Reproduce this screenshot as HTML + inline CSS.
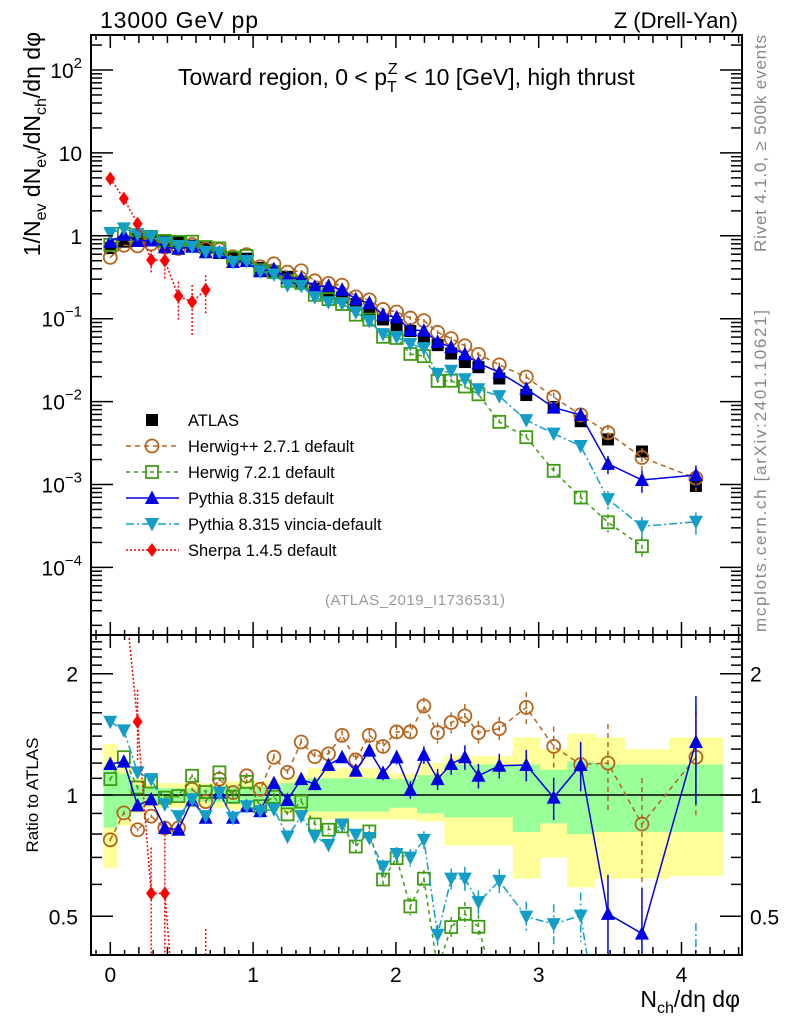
<!DOCTYPE html>
<html><head><meta charset="utf-8"><style>
html,body{margin:0;padding:0;background:#fff;width:786px;height:1024px;overflow:hidden;}
svg{display:block;font-family:"Liberation Sans",sans-serif;}
</style></head><body>
<svg id="chart" width="786" height="1024" viewBox="0 0 786 1024" xmlns="http://www.w3.org/2000/svg">
<defs>
<clipPath id="cm"><rect x="91" y="35" width="651" height="600"/></clipPath>
<clipPath id="cr"><rect x="91" y="635" width="651" height="320"/></clipPath>
</defs>
<g id="ratioBands" clip-path="url(#cr)"></g>
<line x1="91" y1="795" x2="742" y2="795" stroke="#000" stroke-width="1.5"/>
<g id="mainMarks" clip-path="url(#cm)"></g>
<g id="ratioMarks" clip-path="url(#cr)"></g>
<g id="axes"></g>
<rect x="91" y="35" width="651" height="600" fill="none" stroke="#000" stroke-width="2"/>
<rect x="91" y="635" width="651" height="320" fill="none" stroke="#000" stroke-width="2"/>
<text x="100" y="28" font-size="23" textLength="158">13000 GeV pp</text>
<text x="738" y="28" font-size="22" text-anchor="end">Z (Drell-Yan)</text>
<text x="178" y="85" font-size="23">Toward region, 0 &lt; p<tspan font-size="16" dy="7">T</tspan><tspan font-size="16" dx="-9" dy="-18">Z</tspan><tspan dy="11"> &lt; 10 [GeV], high thrust</tspan></text>
<text transform="translate(40,32) rotate(-90)" font-size="23" text-anchor="end">1/N<tspan font-size="16" dy="6">ev</tspan><tspan dy="-6"> dN</tspan><tspan font-size="16" dy="6">ev</tspan><tspan dy="-6">/dN</tspan><tspan font-size="16" dy="6">ch</tspan><tspan dy="-6">/dη dφ</tspan></text>
<text transform="translate(38,795) rotate(-90)" font-size="17" text-anchor="middle">Ratio to ATLAS</text>
<text x="740" y="1007" font-size="23" text-anchor="end">N<tspan font-size="16" dy="6">ch</tspan><tspan dy="-6">/dη dφ</tspan></text>
<text transform="translate(766,252) rotate(-90)" font-size="17" fill="#888" textLength="217">Rivet 4.1.0, ≥ 500k events</text>
<text transform="translate(766,632) rotate(-90)" font-size="17" fill="#888" textLength="322">mcplots.cern.ch [arXiv:2401.10621]</text>
<text x="325" y="605" font-size="15" fill="#999" textLength="180">(ATLAS_2019_I1736531)</text>
<g id="legend"></g>
</svg>
<script>
var xs=[0,0.095,0.191,0.286,0.382,0.477,0.573,0.668,0.764,0.859,0.955,1.05,1.146,1.241,1.337,1.432,1.528,1.623,1.719,1.814,1.91,2.005,2.101,2.196,2.292,2.387,2.483,2.578,2.724,2.913,3.105,3.294,3.485,3.723,4.101];
var atlas=[0.71,0.85,0.92,0.9,0.88,0.85,0.76,0.72,0.62,0.55,0.53,0.41,0.37,0.32,0.28,0.23,0.21,0.18,0.15,0.12,0.098,0.084,0.071,0.057,0.048,0.038,0.030,0.026,0.019,0.012,0.0086,0.0058,0.0035,0.0025,0.00096];
var herwigppRatio=[0.774,0.903,0.82,0.886,0.828,0.828,1.033,0.963,1.095,1.014,1.116,1.033,1.241,1.138,1.354,1.245,1.265,1.406,1.222,1.406,1.32,1.434,1.434,1.663,1.428,1.513,1.572,1.428,1.461,1.65,1.32,1.19,1.2,0.847,1.241];
var herwig7Ratio=[1.095,1.241,1.044,1.08,0.985,0.994,1.116,1.017,1.138,0.99,1.078,0.938,0.99,0.895,0.963,0.845,0.82,0.836,0.745,0.812,0.617,0.697,0.529,0.62,0.37,0.47,0.507,0.471,0.30,0.31,0.17,0.12,0.10,0.072,null];
var pythiaRatio=[1.194,1.21,0.942,0.975,0.828,0.82,0.97,0.878,1.014,0.878,0.938,0.912,1.07,0.972,1.095,1.064,1.187,1.241,1.149,1.289,1.133,1.241,1.03,1.258,1.095,1.194,1.241,1.116,1.182,1.187,0.985,1.187,0.507,0.453,1.354];
var vinciaRatio=[1.52,1.447,1.138,1.095,0.948,0.886,0.975,0.886,1.014,0.878,0.938,0.912,0.921,0.789,0.886,0.789,0.752,0.845,0.797,0.782,0.664,0.714,0.699,0.774,0.45,0.62,0.62,0.542,0.612,0.499,0.478,0.502,0.19,0.125,0.37];
var sherpaRatio=[6.9,3.3,1.52,0.57,0.57,0.22,0.21,0.31];
var errFrac=[0.01,0.01,0.01,0.01,0.01,0.01,0.01,0.01,0.01,0.01,0.015,0.015,0.02,0.02,0.02,0.025,0.025,0.03,0.03,0.035,0.04,0.04,0.05,0.05,0.06,0.06,0.07,0.07,0.07,0.09,0.12,0.14,0.25,0.3,0.3];
var sherpaErr=[0.1,0.15,0.2,0.3,0.4,0.5,0.6,0.5];
var yellowUp=[1.34,1.22,1.10,1.07,1.07,1.07,1.07,1.07,1.07,1.08,1.08,1.08,1.09,1.10,1.12,1.165,1.165,1.165,1.165,1.165,1.165,1.13,1.13,1.2,1.2,1.25,1.25,1.25,1.25,1.39,1.30,1.42,1.39,1.30,1.39];
var yellowDn=[0.66,0.84,0.90,0.93,0.93,0.93,0.93,0.93,0.93,0.92,0.92,0.92,0.91,0.90,0.89,0.87,0.87,0.87,0.87,0.87,0.87,0.87,0.87,0.86,0.86,0.75,0.75,0.75,0.75,0.62,0.70,0.59,0.62,0.62,0.63];
var greenUp=[1.18,1.13,1.06,1.04,1.04,1.04,1.04,1.04,1.04,1.05,1.05,1.05,1.06,1.07,1.08,1.10,1.10,1.10,1.10,1.10,1.10,1.095,1.095,1.12,1.12,1.19,1.19,1.19,1.19,1.19,1.155,1.21,1.19,1.19,1.19];
var greenDn=[0.83,0.88,0.93,0.96,0.96,0.96,0.96,0.96,0.96,0.95,0.95,0.95,0.94,0.93,0.92,0.91,0.91,0.91,0.91,0.91,0.91,0.93,0.93,0.90,0.90,0.88,0.88,0.88,0.88,0.81,0.85,0.80,0.81,0.81,0.81];
var xTicks=[0,1,2,3,4];
var mainTickExp=[2,1,0,-1,-2,-3,-4];
var ratioTicks=[0.5,1,2];

var NS="http://www.w3.org/2000/svg";
var RTOP=634,RBOT=956;
function X(v){return 110.3+v*142.8;}
function YM(v){return 235.8-82.9*Math.log10(v);}
function YR(r){return 795-121.3*Math.log2(r);}
function cl(y){return Math.max(RTOP,Math.min(RBOT,y));}
function mk(tag,attrs,parent){var e=document.createElementNS(NS,tag);for(var k in attrs)e.setAttribute(k,attrs[k]);parent.appendChild(e);return e;}
var mainG=document.getElementById('mainMarks'),ratG=document.getElementById('ratioMarks'),axG=document.getElementById('axes'),bandG=document.getElementById('ratioBands'),legG=document.getElementById('legend');

for(var i=0;i<xs.length;i++){
  var l=i==0?X(xs[0])-(X(xs[1])-X(xs[0]))/2:(X(xs[i-1])+X(xs[i]))/2;
  var r=i==xs.length-1?X(xs[i])+(X(xs[i])-X(xs[i-1]))/2:(X(xs[i])+X(xs[i+1]))/2;
  var yb=mk('rect',{x:l,y:cl(YR(yellowUp[i])),width:r-l+0.5,height:cl(YR(yellowDn[i]))-cl(YR(yellowUp[i])),fill:'#ffff99'},bandG);
  
  
  var gb=mk('rect',{x:l,y:cl(YR(greenUp[i])),width:r-l+0.5,height:cl(YR(greenDn[i]))-cl(YR(greenUp[i])),fill:'#99ff99'},bandG);
  
  
}

// clip a polyline (array of [x,y]) to y in [RTOP,RBOT]; returns list of pieces
function clipPoly(pts){
  var pieces=[],cur=[];
  function inside(p){return p[1]>=RTOP&&p[1]<=RBOT;}
  function cross(a,b,yc){var t=(yc-a[1])/(b[1]-a[1]);return [a[0]+t*(b[0]-a[0]),yc];}
  for(var i=0;i<pts.length-1;i++){
    var a=pts[i],b=pts[i+1];
    var ts=[0,1];
    // compute parametric t range inside
    var t0=0,t1=1,dy=b[1]-a[1];
    if(dy==0){ if(!inside(a)){ if(cur.length){pieces.push(cur);cur=[];} continue;} }
    else{
      var tA=(RTOP-a[1])/dy,tB=(RBOT-a[1])/dy;
      var lo=Math.min(tA,tB),hi=Math.max(tA,tB);
      t0=Math.max(0,lo);t1=Math.min(1,hi);
      if(t0>t1){ if(cur.length){pieces.push(cur);cur=[];} continue;}
    }
    var p0=[a[0]+t0*(b[0]-a[0]),a[1]+t0*dy],p1=[a[0]+t1*(b[0]-a[0]),a[1]+t1*dy];
    if(cur.length==0||t0>0){ if(cur.length){pieces.push(cur);} cur=[p0]; }
    cur.push(p1);
    if(t1<1){pieces.push(cur);cur=[];}
  }
  if(cur.length)pieces.push(cur);
  return pieces;
}

function marker(g,type,cx,cy,col){
  var e;
  if(type=='sq') e=mk('rect',{x:cx-6,y:cy-6,width:12,height:12,fill:'#000'},g);
  else if(type=='osq') e=mk('rect',{x:cx-6,y:cy-6,width:12,height:12,fill:'none',stroke:col,'stroke-width':1.8},g);
  else if(type=='circ') e=mk('circle',{cx:cx,cy:cy,r:6.5,fill:'none',stroke:col,'stroke-width':1.8},g);
  else if(type=='up') e=mk('polygon',{points:(cx-7)+','+(cy+6)+' '+(cx+7)+','+(cy+6)+' '+cx+','+(cy-7.5),fill:col},g);
  else if(type=='dn') e=mk('polygon',{points:(cx-7)+','+(cy-6)+' '+(cx+7)+','+(cy-6)+' '+cx+','+(cy+7.5),fill:col},g);
  else e=mk('polygon',{points:cx+','+(cy-7)+' '+(cx+5)+','+cy+' '+cx+','+(cy+7)+' '+(cx-5)+','+cy,fill:col},g);
  return e;
}
var series=[
 {name:'herwigpp',ratio:herwigppRatio,err:errFrac,col:'#b5651d',dash:'5,4',type:'circ',label:'Herwig++ 2.7.1 default'},
 {name:'herwig7',ratio:herwig7Ratio,err:errFrac,col:'#3f9a14',dash:'4,4',type:'osq',label:'Herwig 7.2.1 default'},
 {name:'pythia',ratio:pythiaRatio,err:errFrac,col:'#0000e6',dash:'',type:'up',label:'Pythia 8.315 default'},
 {name:'vincia',ratio:vinciaRatio,err:errFrac,col:'#129ec6',dash:'8,3,2,3',type:'dn',label:'Pythia 8.315 vincia-default'},
 {name:'sherpa',ratio:sherpaRatio,err:sherpaErr,col:'#ff0000',dash:'2,2',type:'dia',label:'Sherpa 1.4.5 default'}
];
for(var i=0;i<atlas.length;i++){
  var m=marker(mainG,'sq',X(xs[i]),YM(atlas[i]),'#000');
  
  
}
series.forEach(function(s){
  var ptsM=[],ptsR=[];
  for(var i=0;i<s.ratio.length;i++){ if(s.ratio[i]==null)continue;
    ptsM.push(X(xs[i])+','+YM(atlas[i]*s.ratio[i])); ptsR.push([X(xs[i]),YR(s.ratio[i])]);}
  var pl=mk('polyline',{points:ptsM.join(' '),fill:'none',stroke:s.col,'stroke-width':1.5,'stroke-dasharray':s.dash},mainG);
  
  
  clipPoly(ptsR).forEach(function(piece){
    var pr=mk('polyline',{points:piece.map(function(p){return p[0]+','+p[1];}).join(' '),fill:'none',stroke:s.col,'stroke-width':1.5,'stroke-dasharray':s.dash},ratG);
    
    
  });
  for(var i=0;i<s.ratio.length;i++){ if(s.ratio[i]==null)continue;
    var cx=X(xs[i]),v=atlas[i]*s.ratio[i],e=s.err[i];
    var eb=mk('line',{x1:cx,x2:cx,y1:YM(v*(1+e)),y2:YM(v*Math.max(1-e,0.05)),stroke:s.col,'stroke-width':1.5,'stroke-dasharray':s.dash},mainG);
    
    
    var m1=marker(mainG,s.type,cx,YM(v),s.col);
    
    
    var ya=cl(YR(s.ratio[i]*(1+e))),yb2=cl(YR(s.ratio[i]*Math.max(1-e,0.05)));
    if(yb2>ya){
      var er=mk('line',{x1:cx,x2:cx,y1:ya,y2:yb2,stroke:s.col,'stroke-width':1.5,'stroke-dasharray':s.dash},ratG);
      
      
    }
    var yr=YR(s.ratio[i]);
    if(yr>RTOP+6&&yr<RBOT-6){
      var m2=marker(ratG,s.type,cx,yr,s.col);
      
      
    }
  }
});
var ly=[420,446,472,498,524,550];
var lm=marker(legG,'sq',152,ly[0],'#000');


var lt=mk('text',{x:188,y:ly[0]+6,'font-size':16.5},legG);lt.textContent='ATLAS';


series.forEach(function(s,k){
  var y=ly[k+1];
  var ll=mk('line',{x1:126,x2:179,y1:y,y2:y,stroke:s.col,'stroke-width':1.5,'stroke-dasharray':s.dash},legG);
  
  
  var m=marker(legG,s.type,152,y,s.col);
  
  
  var t=mk('text',{x:188,y:y+6,'font-size':16.5},legG);t.textContent=s.label;
  
  
});
function tick(x1,y1,x2,y2){var t=mk('line',{x1:x1,y1:y1,x2:x2,y2:y2,stroke:'#000','stroke-width':1.5},axG);
  
  }
for(var k=-1;k<=44;k++){var v=k/10,px=X(v);if(px<92||px>741)continue;
  var len=(k%10==0)?13:(k%2==0?8:5);
  tick(px,635,px,635-len);tick(px,35,px,35+len);tick(px,955,px,955-len);tick(px,635,px,635+len);}
xTicks.forEach(function(v){var t=mk('text',{x:X(v),y:982,'font-size':21,'text-anchor':'middle'},axG);t.textContent=String(v);
  
  });
for(var e=-5;e<=2;e++){for(var m=1;m<=9;m++){var py=YM(m*Math.pow(10,e));if(py<36||py>634)continue;
  var len=m==1?22:11;tick(91,py,91+len,py);tick(742,py,742-len,py);}}
mainTickExp.forEach(function(e){var py=YM(Math.pow(10,e));
  var t=mk('text',{x:82,y:py+8,'font-size':21,'text-anchor':'end'},axG);
  if(e==0)t.textContent='1';else if(e==1)t.textContent='10';
  else{t.textContent='10';var ts=mk('tspan',{dy:-10,'font-size':15},t);ts.textContent=String(e).replace('-','−');}
  
  });
[0.4,0.5,0.6,0.7,0.8,0.9,1,1.1,1.2,1.3,1.4,1.5,1.6,1.7,1.8,1.9,2,2.1,2.2,2.3,2.4,2.5].forEach(function(r){
  var py=YR(r);if(py<636||py>954)return;var len=(r==0.5||r==1||r==2)?22:11;tick(91,py,91+len,py);tick(742,py,742-len,py);});
ratioTicks.forEach(function(r){
  var t=mk('text',{x:78,y:YR(r)+8,'font-size':21,'text-anchor':'end'},axG);t.textContent=String(r);
  
  
  var t2=mk('text',{x:750,y:YR(r)+8,'font-size':21},axG);t2.textContent=String(r);
  
  });
</script>
</body></html>
